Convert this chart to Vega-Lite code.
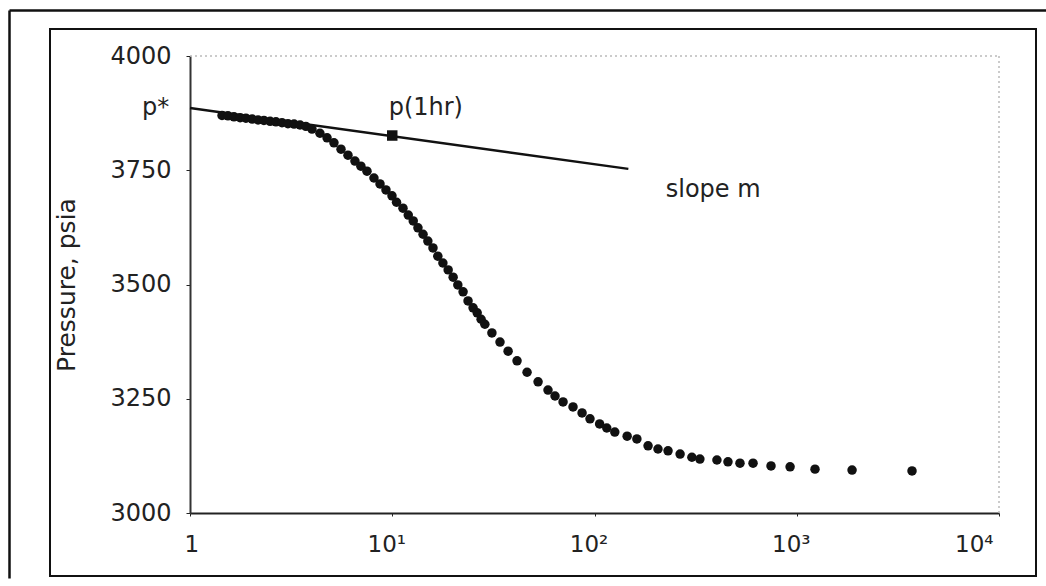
{
  "$schema": "https://vega.github.io/schema/vega-lite/v6.json",
  "width": 986,
  "height": 547,
  "autosize": "none",
  "padding": {"left": 50, "top": 29, "right": 10, "bottom": 10},
  "background": "white",
  "config": {
    "view": {"stroke": "#111", "strokeWidth": 2},
    "font": "DejaVu Sans",
    "axis": {"grid": false}
  },
  "datasets": {
    "frame": [{"f": 0}],
    "points": [
      {"t": 1.44, "p": 3870}, {"t": 1.54, "p": 3869}, {"t": 1.65, "p": 3867}, {"t": 1.77, "p": 3865},
      {"t": 1.89, "p": 3864}, {"t": 2.03, "p": 3862}, {"t": 2.17, "p": 3860}, {"t": 2.32, "p": 3859},
      {"t": 2.49, "p": 3857}, {"t": 2.66, "p": 3856}, {"t": 2.85, "p": 3854}, {"t": 3.05, "p": 3852},
      {"t": 3.27, "p": 3851}, {"t": 3.5, "p": 3849}, {"t": 3.74, "p": 3846}, {"t": 4.01, "p": 3840},
      {"t": 4.39, "p": 3831}, {"t": 4.76, "p": 3821}, {"t": 5.15, "p": 3810}, {"t": 5.58, "p": 3796},
      {"t": 6.04, "p": 3783}, {"t": 6.54, "p": 3770}, {"t": 7.0, "p": 3759}, {"t": 7.5, "p": 3748},
      {"t": 8.12, "p": 3733}, {"t": 8.7, "p": 3720}, {"t": 9.31, "p": 3707}, {"t": 9.97, "p": 3694},
      {"t": 10.5, "p": 3680}, {"t": 11.3, "p": 3667}, {"t": 12.0, "p": 3652}, {"t": 12.7, "p": 3639},
      {"t": 13.4, "p": 3624}, {"t": 14.2, "p": 3610}, {"t": 15.0, "p": 3595}, {"t": 15.9, "p": 3580},
      {"t": 16.8, "p": 3562}, {"t": 17.8, "p": 3547}, {"t": 18.9, "p": 3532}, {"t": 20.0, "p": 3516},
      {"t": 21.1, "p": 3499}, {"t": 22.4, "p": 3484}, {"t": 23.7, "p": 3464}, {"t": 25.1, "p": 3449},
      {"t": 26.3, "p": 3438}, {"t": 27.5, "p": 3424}, {"t": 28.7, "p": 3413}, {"t": 31.1, "p": 3394},
      {"t": 34.1, "p": 3374}, {"t": 37.4, "p": 3354}, {"t": 41.4, "p": 3333}, {"t": 46.4, "p": 3308},
      {"t": 52.6, "p": 3287}, {"t": 58.9, "p": 3269}, {"t": 63.8, "p": 3256}, {"t": 69.9, "p": 3243},
      {"t": 78.3, "p": 3232}, {"t": 86.8, "p": 3219}, {"t": 95.0, "p": 3206}, {"t": 106, "p": 3195},
      {"t": 115, "p": 3186}, {"t": 126, "p": 3177}, {"t": 145, "p": 3168}, {"t": 162, "p": 3162},
      {"t": 184, "p": 3147}, {"t": 206, "p": 3140}, {"t": 231, "p": 3136}, {"t": 265, "p": 3129},
      {"t": 303, "p": 3122}, {"t": 332, "p": 3118}, {"t": 403, "p": 3116}, {"t": 457, "p": 3112},
      {"t": 524, "p": 3109}, {"t": 608, "p": 3109}, {"t": 746, "p": 3103}, {"t": 927, "p": 3101},
      {"t": 1231, "p": 3096}, {"t": 1877, "p": 3094}, {"t": 3715, "p": 3092}
    ],
    "tangent": [{"t": 1, "p": 3886}, {"t": 147, "p": 3753}],
    "onehr": [{"t": 10, "p": 3826}],
    "labelsLeft": [
      {"t": 9.6, "p": 3887, "txt": "p(1hr)"},
      {"t": 225, "p": 3707, "txt": "slope m"}
    ],
    "labelsRight": [
      {"t": 0.79, "p": 3886, "txt": "p*"}
    ],
    "topedge": [{"t": 1, "t2": 10000, "p": 4000}],
    "rightedge": [{"t": 10000, "p": 3000, "p2": 4000}]
  },
  "layer": [
    {
      "data": {"name": "frame"},
      "mark": {"type": "point", "opacity": 0},
      "encoding": {
        "x": {"field": "f", "type": "quantitative",
          "scale": {"domain": [0, 1], "range": [-41, 996], "nice": false, "zero": false},
          "axis": {"orient": "top", "offset": 19, "domainColor": "#111", "domainWidth": 2.5, "labels": false, "ticks": false, "title": null, "grid": false}},
        "y": {"field": "f", "type": "quantitative",
          "scale": {"domain": [0, 1], "range": [549, -19], "nice": false, "zero": false},
          "axis": {"orient": "left", "offset": 41, "domainColor": "#111", "domainWidth": 2.5, "labels": false, "ticks": false, "title": null, "grid": false}}
      }
    },
    {
      "encoding": {
        "x": {"field": "t", "type": "quantitative",
          "scale": {"type": "log", "domain": [1, 10000], "range": [140, 949], "nice": false},
          "axis": {"orient": "bottom", "offset": -63, "values": [1, 10, 100, 1000, 10000],
            "labelExpr": "datum.value == 1 ? '1' : datum.value == 10 ? '10¹' : datum.value == 100 ? '10²' : datum.value == 1000 ? '10³' : '10⁴'",
            "domainColor": "#222", "domainWidth": 2, "tickColor": "#222", "tickSize": 3,
            "labelFontSize": 23, "labelColor": "#222", "labelPadding": 17, "labelOffset": -6, "title": null, "grid": false}},
        "y": {"field": "p", "type": "quantitative",
          "scale": {"domain": [3000, 4000], "range": [484, 27], "nice": false, "zero": false},
          "axis": {"orient": "left", "offset": -140, "values": [3000, 3250, 3500, 3750, 4000], "format": "d",
            "domainColor": "#333", "domainWidth": 2, "tickColor": "#222", "tickSize": 4,
            "labelFontSize": 24, "labelColor": "#222", "labelPadding": 15,
            "title": "Pressure, psia", "titleFontSize": 25, "titleFontWeight": "normal", "titleColor": "#222", "titlePadding": 30, "grid": false}}
      },
      "layer": [
        {
          "data": {"name": "topedge"},
          "mark": {"type": "rule", "color": "#bbb", "strokeDash": [2, 3], "strokeWidth": 1.5},
          "encoding": {"x2": {"field": "t2"}}
        },
        {
          "data": {"name": "rightedge"},
          "mark": {"type": "rule", "color": "#bbb", "strokeDash": [2, 3], "strokeWidth": 1.5},
          "encoding": {"y2": {"field": "p2"}}
        },
        {
          "data": {"name": "tangent"},
          "mark": {"type": "line", "color": "#111", "strokeWidth": 2.5},
          "encoding": {}
        },
        {
          "data": {"name": "points"},
          "mark": {"type": "circle", "color": "#111", "size": 90, "opacity": 1},
          "encoding": {}
        },
        {
          "data": {"name": "onehr"},
          "mark": {"type": "square", "color": "#111", "size": 110, "opacity": 1},
          "encoding": {}
        },
        {
          "data": {"name": "labelsLeft"},
          "mark": {"type": "text", "fontSize": 24, "color": "#222", "baseline": "middle", "align": "left"},
          "encoding": {"text": {"field": "txt"}}
        },
        {
          "data": {"name": "labelsRight"},
          "mark": {"type": "text", "fontSize": 24, "color": "#222", "baseline": "middle", "align": "right"},
          "encoding": {"text": {"field": "txt"}}
        }
      ]
    }
  ],
  "resolve": {"scale": {"x": "independent", "y": "independent"}, "axis": {"x": "independent", "y": "independent"}}
}
